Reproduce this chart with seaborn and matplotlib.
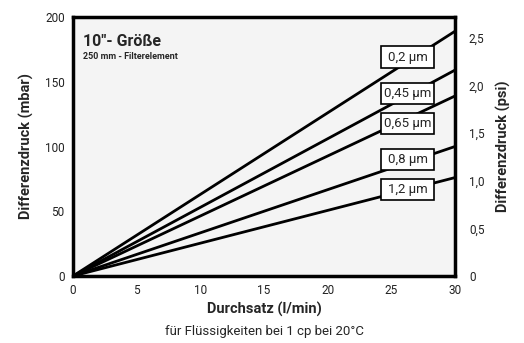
import matplotlib
matplotlib.use("Agg")
import matplotlib.pyplot as plt
from matplotlib.patches import Rectangle
import seaborn as sns
import pandas as pd

sns.set_theme(style="white")
plt.rcParams['font.family'] = ['Roboto', 'DejaVu Sans']

filters = ["0,2 µm", "0,45 µm", "0,65 µm", "0,8 µm", "1,2 µm"]
flow_points = [0, 30]
dp_at_30 = [189, 159, 139, 100, 76]
label_y = [169, 141, 118, 90, 67]
x_ticks = [0, 5, 10, 15, 20, 25, 30]
y_ticks = [0, 50, 100, 150, 200]
psi_ticks = [0, 0.5, 1.0, 1.5, 2.0, 2.5]
psi_labels = ["0", "0,5", "1,0", "1,5", "2,0", "2,5"]

rows = []
for f, v in zip(filters, dp_at_30):
    rows.append({"filter": f, "flow": flow_points[0], "dp": 0})
    rows.append({"filter": f, "flow": flow_points[1], "dp": v})
df = pd.DataFrame(rows)

fig = plt.figure(figsize=(5.24, 3.43), dpi=100)
ax = fig.add_axes([73/524, 1-276/343, (455-73)/524, (276-17)/343])
ax.set_facecolor("#f4f4f4")
sns.lineplot(data=df, x="flow", y="dp", units="filter", estimator=None,
             color="black", linewidth=2, ax=ax, legend=False)
ax.set_xlim(0, 30)
ax.set_ylim(0, 200)
ax.set_xticks(x_ticks)
ax.set_yticks(y_ticks)
ax.tick_params(length=0, labelsize=8.5, pad=6, colors="#222222")
for s in ax.spines.values():
    s.set_linewidth(2.5)
    s.set_color("black")
ax.set_xlabel("Durchsatz (l/min)", fontsize=10.5, fontweight="semibold", labelpad=3)
ax.set_ylabel("Differenzdruck (mbar)", fontsize=10.5, fontweight="semibold", labelpad=8)

box_x0, box_x1 = 24.2, 28.35
box_h = 16.5
for f, ly in zip(filters, label_y):
    ax.add_patch(Rectangle((box_x0, ly - box_h/2), box_x1 - box_x0, box_h,
                           facecolor="white", edgecolor="black", lw=1.2, zorder=5))
    ax.text((box_x0 + box_x1)/2, ly, f, ha="center", va="center", fontsize=9.5,
            zorder=6)

ax.text(0.025, 0.935, "10\"- Größe", transform=ax.transAxes, fontsize=11.5,
        fontweight="bold", va="top", ha="left")
ax.text(0.025, 0.865, "250 mm - Filterelement", transform=ax.transAxes, fontsize=6.5,
        fontweight="bold", va="top", ha="left")

ax2 = ax.twinx()
ax2.set_ylim(0, 2.5 + 21/95)
ax2.set_yticks(psi_ticks)
ax2.set_yticklabels(psi_labels)
ax2.tick_params(length=0, labelsize=8.5, pad=10, colors="#222222")
for s in ax2.spines.values():
    s.set_visible(False)
ax2.set_ylabel("Differenzdruck (psi)", fontsize=10.5, fontweight="semibold", labelpad=8)
ax2.grid(False)

fig.text((73+455)/2/524, 1-331/343, "für Flüssigkeiten bei 1 cp bei 20°C",
         ha="center", va="center", fontsize=9.5)

fig.savefig("out.png", dpi=100, facecolor="white")
